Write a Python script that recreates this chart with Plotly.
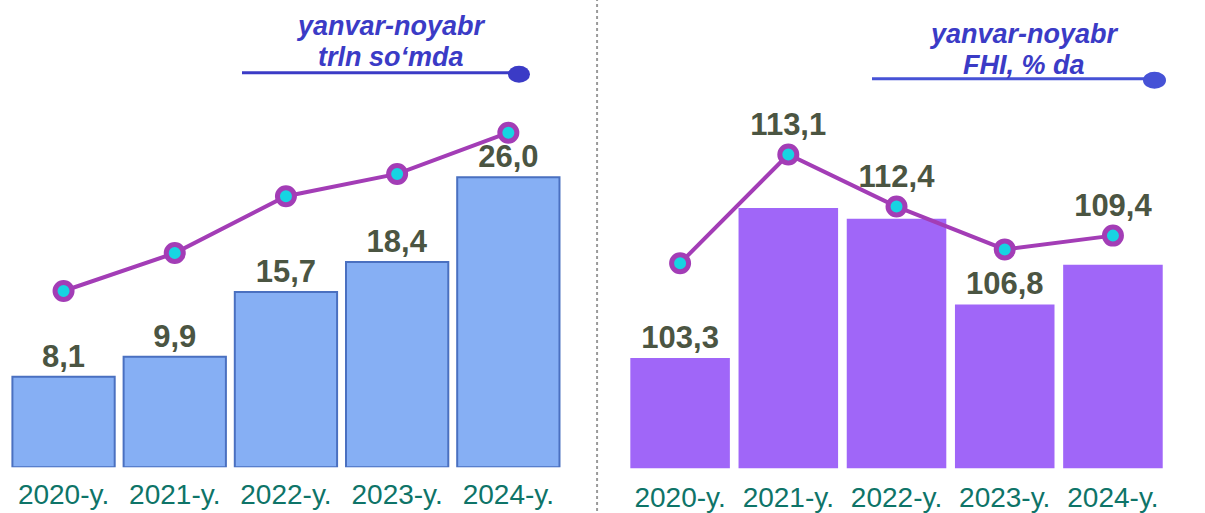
"""Two-panel bar + line infographic: volume and growth index, Jan-Nov."""

import plotly.graph_objects as go

FONT = "Liberation Sans, Arial, sans-serif"
C_TITLE = "#3b3bc6"
C_TICK = "#0e7468"
C_VALUE = "#4b5542"
C_LINE = "#a33db6"
C_MARK = "#17d4e2"

years = ["2020-y.", "2021-y.", "2022-y.", "2023-y.", "2024-y."]

# left panel: trln so'm
left_values = [8.1, 9.9, 15.7, 18.4, 26.0]
left_trend = [15.8, 19.2, 24.3, 26.3, 30.0]

# right panel: FHI, %
right_values = [103.3, 113.1, 112.4, 106.8, 109.4]
right_trend = [109.5, 116.6, 113.2, 110.4, 111.3]
right_label_on_line = [False, True, True, False, True]


def fmt(v):
    return f"{v:.1f}".replace(".", ",")


label_font = dict(family=FONT, size=31, color=C_VALUE)

fig = go.Figure()

fig.add_trace(go.Bar(
    x=years, y=left_values,
    marker=dict(color="#86aff4", line=dict(color="#4a70c0", width=2)),
    text=[f"<b>{fmt(v)}</b>" for v in left_values],
    textposition="outside", textfont=label_font, cliponaxis=False,
    xaxis="x", yaxis="y",
))
fig.add_trace(go.Scatter(
    x=years, y=left_trend, mode="lines+markers",
    line=dict(color=C_LINE, width=4),
    marker=dict(size=17, color=C_MARK, line=dict(color=C_LINE, width=5)),
    xaxis="x", yaxis="y", cliponaxis=False,
))

fig.add_trace(go.Bar(
    x=years, y=right_values,
    marker=dict(color="#a066f8", line=dict(width=0)),
    text=["" if on else f"<b>{fmt(v)}</b>" for v, on in zip(right_values, right_label_on_line)],
    textposition="outside", textfont=label_font, cliponaxis=False,
    xaxis="x2", yaxis="y2",
))
fig.add_trace(go.Scatter(
    x=years, y=right_trend, mode="lines+markers+text",
    text=[f"<b>{fmt(v)}</b>" if on else "" for v, on in zip(right_values, right_label_on_line)],
    textposition="top center", textfont=label_font,
    line=dict(color=C_LINE, width=4),
    marker=dict(size=17, color=C_MARK, line=dict(color=C_LINE, width=5)),
    xaxis="x2", yaxis="y2", cliponaxis=False,
))

tick_font = dict(family=FONT, size=28, color=C_TICK)
xcommon = dict(showgrid=False, zeroline=False, showline=False, ticks="",
               tickfont=tick_font, fixedrange=True)
ycommon = dict(showgrid=False, zeroline=False, showline=False,
               showticklabels=False, fixedrange=True)


def title_note(x, y, text):
    return dict(x=x, y=y, xref="paper", yref="paper", xanchor="center", yanchor="middle",
                text=f"<b><i>{text}</i></b>", showarrow=False, borderpad=0,
                font=dict(family=FONT, size=27, color=C_TITLE))


fig.update_layout(
    width=1205, height=513,
    margin=dict(l=0, r=0, t=0, b=0),
    paper_bgcolor="white", plot_bgcolor="white",
    showlegend=False, bargap=0.08,
    font=dict(family=FONT),
    xaxis=dict(domain=[0.0066, 0.468], ticklabelstandoff=8, **xcommon),
    yaxis=dict(domain=[0.0858, 1], range=[0, 41.9], **ycommon),
    xaxis2=dict(domain=[0.5195, 0.9685], anchor="y2", ticklabelstandoff=10, **xcommon),
    yaxis2=dict(domain=[0.0838, 1], range=[96.1, 126.7], anchor="x2", **ycommon),
    annotations=[
        title_note(0.3245, 1 - 26 / 513, "yanvar-noyabr"),
        title_note(0.3245, 1 - 57 / 513, "trln so‘mda"),
        title_note(0.850, 1 - 34 / 513, "yanvar-noyabr"),
        title_note(0.850, 1 - 65 / 513, "FHI, % da"),
    ],
    shapes=[
        # dotted divider
        dict(type="line", xref="paper", yref="paper", x0=0.4955, x1=0.4955, y0=0, y1=1,
             line=dict(color="#9a9a9a", width=2, dash="dot")),
        # title underlines with end dots
        dict(type="line", xref="paper", yref="paper", x0=242 / 1205, x1=512 / 1205,
             y0=1 - 73 / 513, y1=1 - 73 / 513, line=dict(color=C_TITLE, width=3)),
        dict(type="circle", xref="paper", yref="paper", x0=508 / 1205, x1=530 / 1205,
             y0=1 - 83 / 513, y1=1 - 66 / 513, fillcolor=C_TITLE, line=dict(width=0)),
        dict(type="line", xref="paper", yref="paper", x0=872 / 1205, x1=1148 / 1205,
             y0=1 - 79 / 513, y1=1 - 79 / 513, line=dict(color="#4652d6", width=3)),
        dict(type="circle", xref="paper", yref="paper", x0=1143 / 1205, x1=1166 / 1205,
             y0=1 - 89 / 513, y1=1 - 72 / 513, fillcolor="#4652d6", line=dict(width=0)),
    ],
)

fig.write_html("out.html", config={"displayModeBar": False},
               post_script="document.body.style.margin='0';")
